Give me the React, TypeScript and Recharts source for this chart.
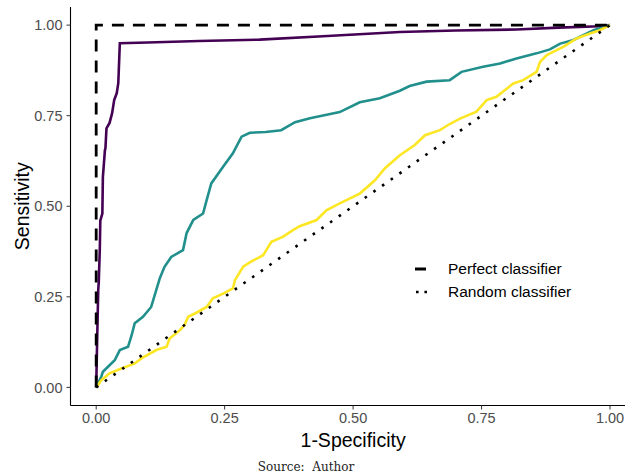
import { LineChart, Line, XAxis, YAxis, Legend, Label } from "recharts";

// ROC curves (false positive rate / true positive rate)
const purpleFpr = [0, 0.002, 0.004, 0.005, 0.007, 0.008, 0.012, 0.013, 0.017, 0.018, 0.02, 0.026, 0.031, 0.035, 0.04, 0.043, 0.044, 0.046, 0.1, 0.2, 0.318, 0.45, 0.591, 0.7, 0.818, 0.9, 0.98, 1];
const purpleTpr = [0, 0.14, 0.27, 0.29, 0.38, 0.46, 0.48, 0.58, 0.655, 0.66, 0.715, 0.73, 0.757, 0.793, 0.812, 0.84, 0.876, 0.95, 0.952, 0.956, 0.96, 0.97, 0.981, 0.985, 0.988, 0.993, 0.997, 1];

const tealFpr = [0, 0.01, 0.013, 0.023, 0.036, 0.046, 0.062, 0.069, 0.075, 0.091, 0.107, 0.117, 0.124, 0.133, 0.146, 0.169, 0.176, 0.189, 0.208, 0.215, 0.224, 0.247, 0.266, 0.283, 0.299, 0.33, 0.36, 0.387, 0.416, 0.474, 0.513, 0.552, 0.591, 0.61, 0.643, 0.688, 0.711, 0.753, 0.786, 0.818, 0.857, 0.883, 0.903, 0.929, 0.948, 0.968, 1];
const tealTpr = [0, 0.03, 0.043, 0.057, 0.075, 0.103, 0.112, 0.144, 0.177, 0.195, 0.222, 0.269, 0.302, 0.333, 0.36, 0.379, 0.426, 0.462, 0.48, 0.517, 0.563, 0.609, 0.646, 0.692, 0.703, 0.705, 0.71, 0.732, 0.743, 0.76, 0.787, 0.798, 0.819, 0.832, 0.844, 0.848, 0.871, 0.885, 0.894, 0.908, 0.922, 0.933, 0.949, 0.959, 0.972, 0.986, 1];

const yellowFpr = [0, 0.01, 0.026, 0.049, 0.075, 0.088, 0.117, 0.137, 0.143, 0.163, 0.172, 0.179, 0.192, 0.215, 0.227, 0.247, 0.266, 0.27, 0.286, 0.299, 0.325, 0.341, 0.364, 0.383, 0.396, 0.429, 0.448, 0.474, 0.513, 0.542, 0.562, 0.591, 0.62, 0.64, 0.669, 0.688, 0.708, 0.74, 0.76, 0.779, 0.812, 0.831, 0.857, 0.864, 0.877, 0.896, 0.909, 0.935, 0.961, 0.98, 1];
const yellowTpr = [0, 0.02, 0.039, 0.052, 0.066, 0.08, 0.103, 0.112, 0.135, 0.158, 0.172, 0.195, 0.204, 0.222, 0.246, 0.259, 0.273, 0.296, 0.333, 0.345, 0.365, 0.402, 0.416, 0.434, 0.445, 0.462, 0.489, 0.508, 0.535, 0.571, 0.605, 0.641, 0.669, 0.696, 0.71, 0.727, 0.742, 0.761, 0.793, 0.802, 0.839, 0.848, 0.871, 0.899, 0.917, 0.931, 0.94, 0.963, 0.977, 0.986, 1];

const perfectFpr = [0, 0, 1];
const perfectTpr = [0, 1, 1];
const randomFpr = [0, 1];
const randomTpr = [0, 1];

const ticks = [0, 0.25, 0.5, 0.75, 1];

const toPoints = (xs: number[], ys: number[]) => xs.map((x, i) => ({ x, y: ys[i] }));

const sans = "'Liberation Sans', Arial, sans-serif";

function RocLegend() {
  return (
    <div style={{ fontFamily: sans, fontSize: 15.5, color: "#000", lineHeight: "22.5px" }}>
      <div style={{ display: "flex", alignItems: "center" }}>
        <svg width={38} height={22}>
          <line x1={5} y1={11} x2={16} y2={11} stroke="#000" strokeWidth={3} />
        </svg>
        <span>Perfect classifier</span>
      </div>
      <div style={{ display: "flex", alignItems: "center" }}>
        <svg width={38} height={22}>
          <line x1={6} y1={11} x2={17} y2={11} stroke="#000" strokeWidth={2.6} strokeDasharray="2.6 5.8" />
        </svg>
        <span>Random classifier</span>
      </div>
    </div>
  );
}

export default function App() {
  return (
    <div style={{ position: "absolute", left: 0, top: 0, width: 625, height: 474, overflow: "hidden", background: "#fff" }}>
      <LineChart width={640} height={474} margin={{ top: 7, right: 4.3, left: 0.5, bottom: 0 }}>
        <XAxis
          dataKey="x"
          type="number"
          domain={[-0.05, 1.05]}
          ticks={ticks}
          tickFormatter={(v: number) => v.toFixed(2)}
          height={68.5}
          tickSize={4}
          tickMargin={3.5}
          axisLine={{ stroke: "#000", strokeWidth: 1.1 }}
          tickLine={{ stroke: "#333" }}
          tick={{ fill: "#4d4d4d", fontSize: 14.5, fontFamily: sans }}
        >
          <Label value="1-Specificity" position="insideBottom" offset={27.3} style={{ fontSize: 19.5, fontFamily: sans, fill: "#000" }} />
        </XAxis>
        <YAxis
          type="number"
          domain={[-0.05, 1.05]}
          ticks={ticks}
          tickFormatter={(v: number) => v.toFixed(2)}
          width={70}
          tickSize={4}
          tickMargin={4}
          axisLine={{ stroke: "#000", strokeWidth: 1.1 }}
          tickLine={{ stroke: "#333" }}
          tick={{ fill: "#4d4d4d", fontSize: 14.5, fontFamily: sans }}
        >
          <Label
            value="Sensitivity"
            angle={-90}
            position="insideLeft"
            offset={21.5}
            style={{ fontSize: 19.5, fontFamily: sans, fill: "#000", textAnchor: "middle" }}
          />
        </YAxis>
        <Legend
          layout="vertical"
          align="center"
          verticalAlign="middle"
          content={() => <RocLegend />}
          wrapperStyle={{ left: 410, top: 258, width: 200 }}
        />
        <Line data={toPoints(purpleFpr, purpleTpr)} dataKey="y" stroke="#440154" strokeWidth={2.6} dot={false} isAnimationActive={false} legendType="none" />
        <Line data={toPoints(tealFpr, tealTpr)} dataKey="y" stroke="#21908C" strokeWidth={2.6} dot={false} isAnimationActive={false} legendType="none" />
        <Line data={toPoints(yellowFpr, yellowTpr)} dataKey="y" stroke="#FDE725" strokeWidth={2.6} dot={false} isAnimationActive={false} legendType="none" />
        <Line data={toPoints(perfectFpr, perfectTpr)} dataKey="y" stroke="#000" strokeWidth={2.8} strokeDasharray="12 9" dot={false} isAnimationActive={false} />
        <Line data={toPoints(randomFpr, randomTpr)} dataKey="y" stroke="#000" strokeWidth={2.6} strokeDasharray="2.6 8" dot={false} isAnimationActive={false} />
      </LineChart>
      <div
        style={{
          position: "absolute",
          left: 0,
          top: 460,
          width: 612,
          textAlign: "center",
          fontFamily: "'DejaVu Serif', serif",
          fontSize: 12,
          color: "#222",
          lineHeight: "14px",
        }}
      >
        Source:&nbsp; Author
      </div>
    </div>
  );
}
